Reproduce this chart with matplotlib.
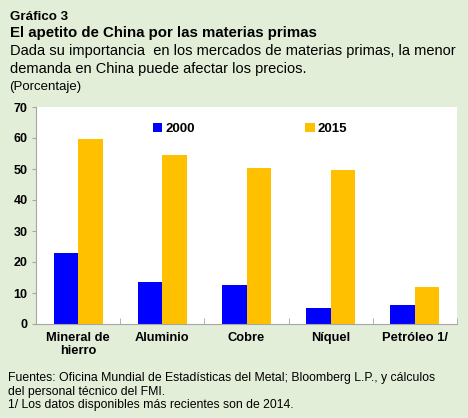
import matplotlib.pyplot as plt
import numpy as np

categorias = ['Mineral de\nhierro', 'Aluminio', 'Cobre', 'Níquel', 'Petróleo 1/']
v2000 = [22.8, 13.4, 12.6, 5.2, 6.1]
v2015 = [59.7, 54.4, 50.4, 49.8, 11.8]

W, H = 468, 418
bg = '#E3EED9'
azul = '#0000FF'
oro = '#FFC000'
gris = '#A6A6A6'

plt.rcParams['font.family'] = ['Liberation Sans', 'DejaVu Sans']

fig = plt.figure(figsize=(W / 100, H / 100), dpi=100, facecolor=bg)
ax = fig.add_axes([36 / W, 1 - 324 / H, (457 - 36) / W, (324 - 107) / H])

x = np.arange(len(categorias))
ancho = 0.29
ax.bar(x - ancho / 2, v2000, ancho, color=azul, label='2000')
ax.bar(x + ancho / 2, v2015, ancho, color=oro, label='2015')

ax.set_xlim(-0.5, len(categorias) - 0.5)
ax.set_ylim(0, 70)
ax.set_yticks(range(0, 71, 10))
ax.set_xticks(x)
ax.set_xticklabels(categorias, fontsize=9.3, fontweight='bold', linespacing=1.1)
ax.set_xticks(np.arange(0.5, len(categorias), 1), minor=True)
ax.tick_params(axis='x', which='major', length=0, pad=6)
ax.tick_params(axis='x', which='minor', direction='in', length=4, color=gris)
ax.tick_params(axis='y', direction='out', length=3, color=gris, labelsize=9, pad=3)
for lab in ax.get_yticklabels():
    lab.set_fontweight('bold')
for s in ['top', 'right']:
    ax.spines[s].set_visible(False)
for s in ['left', 'bottom']:
    ax.spines[s].set_color(gris)

ax.legend(loc='upper left', bbox_to_anchor=(0.25, 0.98), ncol=2, frameon=False,
          handlelength=0.7, handleheight=0.7, handletextpad=0.2,
          columnspacing=8.4, prop={'weight': 'bold', 'size': 9.5})

def texto(px, py, s, **kw):
    fig.text(px / W, 1 - py / H, s, va='baseline', ha='left', **kw)

texto(10, 20, 'Gráfico 3', fontsize=9.6, fontweight='bold')
texto(10, 37, 'El apetito de China por las materias primas', fontsize=10.8, fontweight='bold')
texto(10, 55, 'Dada su importancia  en los mercados de materias primas, la menor', fontsize=10.5)
texto(10, 73, 'demanda en China puede afectar los precios.', fontsize=10.5)
texto(9, 90, '(Porcentaje)', fontsize=9.5)
texto(8, 381, 'Fuentes: Oficina Mundial de Estadísticas del Metal; Bloomberg L.P., y cálculos', fontsize=8.8)
texto(8, 394.5, 'del personal técnico del FMI.', fontsize=8.8)
texto(8, 408, '1/ Los datos disponibles más recientes son de 2014.', fontsize=8.8)

fig.savefig('out.png', dpi=100, facecolor=bg)
